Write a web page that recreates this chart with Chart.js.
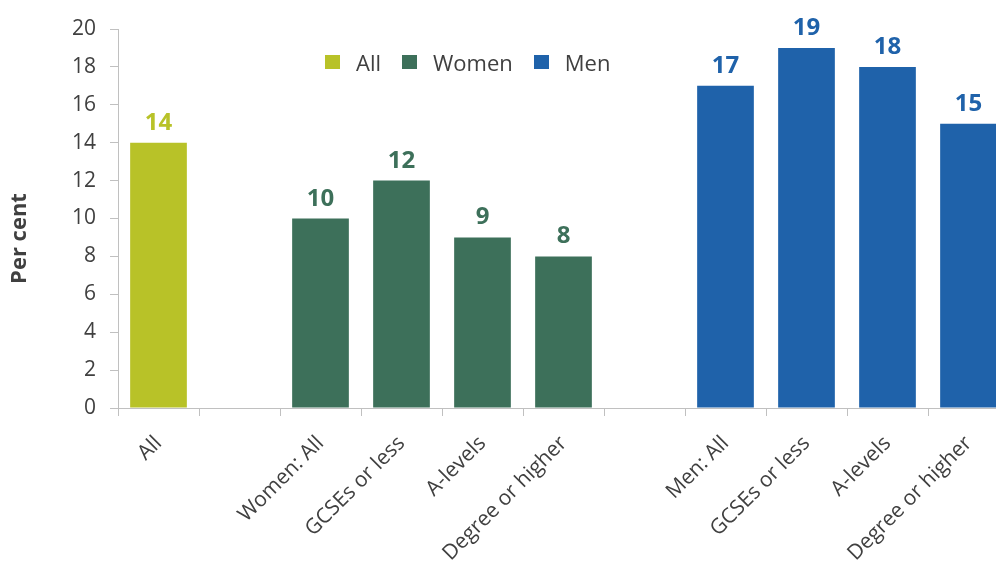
<!DOCTYPE html>
<html>
<head>
<meta charset="utf-8">
<script src="https://cdn.jsdelivr.net/npm/chart.js@4.4.1/dist/chart.umd.min.js"></script>
<style>
  html, body { margin: 0; padding: 0; background: #fff; overflow: hidden; }
  #wrap { position: relative; width: 1012px; height: 564px; }
  #legend {
    position: absolute; left: 325px; top: 47px;
    display: flex; align-items: center;
    font-family: "Open Sans", sans-serif; font-size: 22px; color: #404040;
  }
  #legend .item { display: flex; align-items: center; margin-right: 21px; }
  #legend .box { width: 15px; height: 14px; margin-right: 16px; }
</style>
</head>
<body>
<div id="wrap">
  <canvas id="chart"></canvas>
  <div id="legend"></div>
</div>
<script>
const categories = ['All', '', 'Women: All', 'GCSEs or less', 'A-levels', 'Degree or higher',
  '', 'Men: All', 'GCSEs or less', 'A-levels', 'Degree or higher'];
const allValues = [14, null, null, null, null, null, null, null, null, null, null];
const womenValues = [null, null, 10, 12, 9, 8, null, null, null, null, null];
const menValues = [null, null, null, null, null, null, null, 17, 19, 18, 15];
const yTicks = [0, 2, 4, 6, 8, 10, 12, 14, 16, 18, 20];
const yTitle = 'Per cent';

const COLORS = { all: '#b8c228', women: '#3d705a', men: '#1f62aa' };
const TEXT = '#404040';
const AXIS = '#c0c0c0';

// value labels above each bar, same colour as the bar
const barLabels = {
  id: 'barLabels',
  afterDatasetsDraw(chart) {
    const ctx = chart.ctx;
    ctx.save();
    ctx.font = 'bold 24px "Open Sans", sans-serif';
    ctx.textAlign = 'center';
    ctx.textBaseline = 'alphabetic';
    chart.data.datasets.forEach(function (ds, i) {
      const meta = chart.getDatasetMeta(i);
      meta.data.forEach(function (bar, j) {
        const v = ds.data[j];
        if (v === null || v === undefined) return;
        ctx.fillStyle = ds.backgroundColor;
        ctx.fillText(String(v), bar.x, bar.y - 13);
      });
    });
    ctx.restore();
  }
};

// y axis title, sits a bit below the middle of the plot like the original
const axisTitle = {
  id: 'axisTitle',
  afterDraw(chart) {
    const ctx = chart.ctx;
    const area = chart.chartArea;
    ctx.save();
    ctx.translate(20, (area.top + area.bottom) / 2 + 20);
    ctx.rotate(-Math.PI / 2);
    ctx.font = 'bold 22px "Open Sans", sans-serif';
    ctx.fillStyle = TEXT;
    ctx.textAlign = 'center';
    ctx.textBaseline = 'middle';
    ctx.fillText(yTitle, 0, 0);
    ctx.restore();
  }
};

const chart = new Chart(document.getElementById('chart'), {
  type: 'bar',
  data: {
    labels: categories,
    datasets: [
      { label: 'All', data: allValues, backgroundColor: COLORS.all },
      { label: 'Women', data: womenValues, backgroundColor: COLORS.women },
      { label: 'Men', data: menValues, backgroundColor: COLORS.men },
    ]
  },
  options: {
    responsive: true,
    maintainAspectRatio: false,
    animation: false,
    layout: { padding: { top: 29, right: 3, left: 0, bottom: 0 } },
    datasets: { bar: { categoryPercentage: 1, barPercentage: 0.7 } },
    plugins: {
      legend: { display: false },
      tooltip: { enabled: false },
    },
    scales: {
      x: {
        stacked: true,
        grid: { display: true, drawOnChartArea: false, offset: true, tickLength: 8, color: AXIS },
        border: { color: AXIS },
        ticks: {
          color: TEXT,
          font: { family: 'Open Sans', size: 21 },
          maxRotation: 45, minRotation: 45,
          padding: 15,
          autoSkip: false,
        },
        afterFit(scale) { scale.height = 156; }
      },
      y: {
        stacked: true,
        min: 0, max: 20,
        afterBuildTicks(scale) { scale.ticks = yTicks.map(v => ({ value: v })); },
        grid: { display: true, drawOnChartArea: false, tickLength: 8, color: AXIS },
        border: { color: AXIS },
        ticks: {
          color: TEXT,
          font: { family: 'Open Sans', size: 21 },
          padding: 14,
        },
        afterFit(scale) { scale.width = 118; }
      }
    }
  },
  plugins: [barLabels, axisTitle]
});

// legend drawn as html from the datasets
const legendEl = document.getElementById('legend');
chart.data.datasets.forEach(function (ds) {
  const item = document.createElement('div');
  item.className = 'item';
  const box = document.createElement('span');
  box.className = 'box';
  box.style.background = ds.backgroundColor;
  const txt = document.createElement('span');
  txt.textContent = ds.label;
  item.appendChild(box);
  item.appendChild(txt);
  legendEl.appendChild(item);
});
</script>
</body>
</html>
